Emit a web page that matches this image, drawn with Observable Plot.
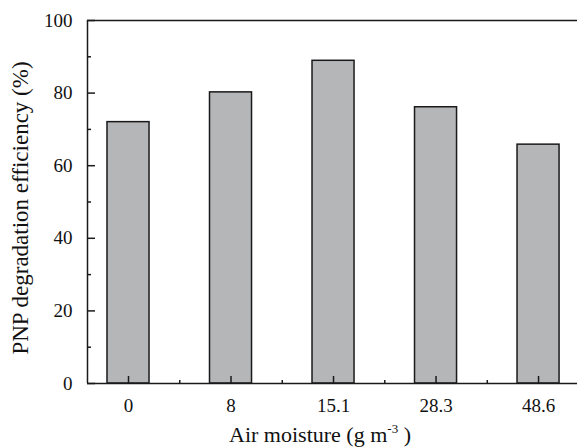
<!DOCTYPE html>
<html>
<head>
<meta charset="utf-8">
<script src="https://cdn.jsdelivr.net/npm/d3@7"></script>
<script src="https://cdn.jsdelivr.net/npm/@observablehq/plot@0.6"></script>
<style>
  html, body { margin: 0; padding: 0; background: #fff; }
  #chart svg { display: block; }
  #chart svg text, #chart svg tspan { font-family: "Liberation Serif", "Times New Roman", serif !important; }
  #chart svg g[aria-label="y-axis tick label"], #chart svg g[aria-label="x-axis tick label"] { font-size: 19px; font-variant: normal; }
</style>
</head>
<body>
<div id="chart"></div>
<script>
// Data
const moisture = ["0", "8", "15.1", "28.3", "48.6"];
const efficiency = [72.0, 80.2, 88.9, 76.1, 65.8];
const yMajorTicks = [0, 20, 40, 60, 80, 100];
const yMinorTicks = [10, 30, 50, 70, 90];
const yLabel = "PNP degradation efficiency (%)";

const data = moisture.map((m, i) => ({pos: i + 1, label: m, value: efficiency[i]}));
const xMajor = data.map(d => d.pos);
const xMinor = data.slice(1).map(d => d.pos - 0.5);
const half = 0.205;
const axisColor = "#1a1a1a";

const chart = Plot.plot({
  width: 577,
  height: 447,
  marginLeft: 87,
  marginRight: 0,
  marginTop: 20,
  marginBottom: 64,
  style: {fontFamily: "'Liberation Serif', serif", fontSize: "19px", color: "#111", background: "white", overflow: "visible"},
  x: {domain: [0.6, 5.38], axis: null},
  y: {domain: [0, 100], axis: null},
  marks: [
    Plot.rectY(data, {x1: d => d.pos - half, x2: d => d.pos + half, y: "value", fill: "#b5b6b8", stroke: axisColor, strokeWidth: 1.5}),
    // frame lines (left, top, bottom)
    Plot.ruleX([0.6], {stroke: axisColor, strokeWidth: 1.5}),
    Plot.ruleY([0, 100], {stroke: axisColor, strokeWidth: 1.5}),
    // y axis
    Plot.axisY({ticks: yMajorTicks, tickSize: -8, tickFormat: () => "", label: null, stroke: axisColor, strokeWidth: 1.5}),
    Plot.axisY({ticks: yMinorTicks, tickSize: -4, tickFormat: () => "", label: null, stroke: axisColor, strokeWidth: 1.5}),
    Plot.axisY({ticks: yMajorTicks, tickSize: 0, tickPadding: 15, fontSize: 19, label: null, fill: "#111"}),
    // x axis
    Plot.axisX({ticks: xMajor, tickSize: -7, tickFormat: () => "", label: null, stroke: axisColor, strokeWidth: 1.5}),
    Plot.axisX({ticks: xMinor, tickSize: -3, tickFormat: () => "", label: null, stroke: axisColor, strokeWidth: 1.5}),
    Plot.axisX({ticks: xMajor, tickSize: 0, tickPadding: 15, fontSize: 19, label: null, fill: "#111",
      tickFormat: p => moisture[p - 1]}),
    // y axis title
    Plot.text([yLabel], {text: d => d, frameAnchor: "left", textAnchor: "middle", lineAnchor: "middle", rotate: -90, dx: -67, dy: 6, fontSize: 23, fill: "#111"})
  ]
});

document.getElementById("chart").appendChild(chart);

// x axis title with superscript
const svg = d3.select(chart);
const t = svg.append("text")
  .attr("x", 320)
  .attr("y", 442)
  .attr("text-anchor", "middle")
  .attr("font-size", 22)
  .attr("fill", "#111");
t.append("tspan").text("Air moisture (g m");
t.append("tspan").attr("dy", -9).attr("font-size", 13).text("-3");
t.append("tspan").attr("dy", 9).text(" )");
</script>
</body>
</html>
